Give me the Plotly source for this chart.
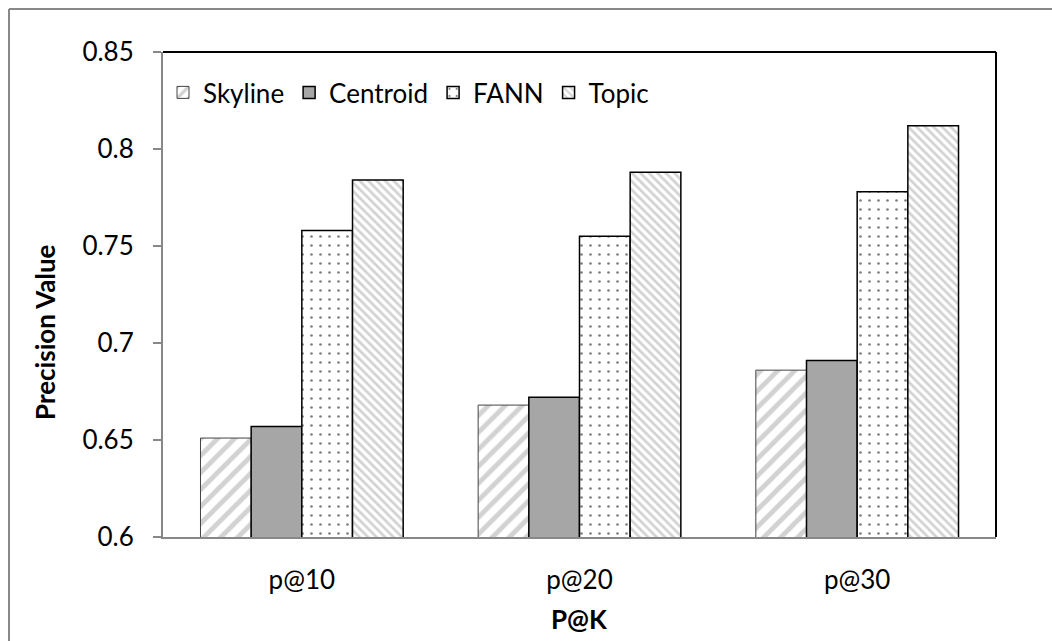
import plotly.graph_objects as go

categories = ["p@10", "p@20", "p@30"]
skyline = [0.651, 0.668, 0.686]
centroid = [0.657, 0.672, 0.691]
fann = [0.758, 0.755, 0.778]
topic = [0.784, 0.788, 0.812]
y_ticks = [0.6, 0.65, 0.7, 0.75, 0.8, 0.85]
y_tick_labels = ["0.6", "0.65", "0.7", "0.75", "0.8", "0.85"]

FONT = "Lato, Carlito, Calibri, sans-serif"

fig = go.Figure()
fig.add_trace(go.Bar(
    name="Skyline", x=categories, y=skyline,
    marker=dict(color="white",
                pattern=dict(shape="/", fgcolor="#a6a6a6", bgcolor="white", size=12, solidity=0.4),
                line=dict(color="#444444", width=1)),
))
fig.add_trace(go.Bar(
    name="Centroid", x=categories, y=centroid,
    marker=dict(color="#a6a6a6", line=dict(color="black", width=1.5)),
))
fig.add_trace(go.Bar(
    name="FANN", x=categories, y=fann,
    marker=dict(color="white",
                pattern=dict(shape=".", fgcolor="black", bgcolor="white", size=9, solidity=0.07),
                line=dict(color="black", width=1.5)),
))
fig.add_trace(go.Bar(
    name="Topic", x=categories, y=topic,
    marker=dict(color="white",
                pattern=dict(shape="\\", fgcolor="#a6a6a6", bgcolor="white", size=6, solidity=0.45),
                line=dict(color="black", width=1.5)),
))

L, R, T, B = 163, 56, 52, 104
W, H = 1052, 641
pw, ph = W - L - R, H - T - B

fig.update_layout(
    width=W, height=H,
    margin=dict(l=L, r=R, t=T, b=B, pad=0),
    paper_bgcolor="white", plot_bgcolor="white",
    barmode="group", bargap=0.27, bargroupgap=0,
    font=dict(family=FONT, color="black", size=26),
    legend=dict(orientation="h", x=0.0, y=0.965, xanchor="left", yanchor="top",
                font=dict(size=26, family=FONT), bgcolor="rgba(0,0,0,0)",
                itemwidth=30, tracegroupgap=0, traceorder="normal"),
    xaxis=dict(showline=True, linecolor="#888888", linewidth=2, ticks="",
               tickfont=dict(size=26), mirror=False, ticklabelstandoff=19),
    yaxis=dict(range=[0.6, 0.85], tickvals=y_ticks, ticktext=y_tick_labels,
               showline=True, linecolor="#888888", linewidth=2,
               ticks="outside", ticklen=8, tickcolor="#888888", tickwidth=1.5,
               showgrid=False, zeroline=False, tickfont=dict(size=26),
               ticklabelstandoff=14),
    annotations=[
        dict(text="<b>P@K</b>", xref="paper", yref="paper", x=0.5, y=(537 - 619) / ph,
             xanchor="center", yanchor="middle", showarrow=False,
             font=dict(size=26, family=FONT, color="black")),
        dict(text="<b>Precision Value</b>", xref="paper", yref="paper",
             x=(45 - L) / pw, y=(537 - 332) / ph, textangle=-90,
             xanchor="center", yanchor="middle", showarrow=False,
             font=dict(size=26, family=FONT, color="black")),
    ],
    shapes=[
        dict(type="line", xref="paper", yref="paper", x0=0, x1=1, y0=1, y1=1,
             line=dict(color="black", width=2)),
        dict(type="line", xref="paper", yref="paper", x0=1, x1=1, y0=0, y1=1,
             line=dict(color="black", width=2)),
        dict(type="line", xref="paper", yref="paper",
             x0=(9 - L) / pw, x1=(W + 10 - L) / pw, y0=(H - B - 9) / ph, y1=(H - B - 9) / ph,
             line=dict(color="#888888", width=2)),
        dict(type="line", xref="paper", yref="paper",
             x0=(9 - L) / pw, x1=(9 - L) / pw, y0=(H - B - 9) / ph, y1=-(B + 10) / ph,
             line=dict(color="#888888", width=2)),
    ],
)

fig.write_html("out.html")
